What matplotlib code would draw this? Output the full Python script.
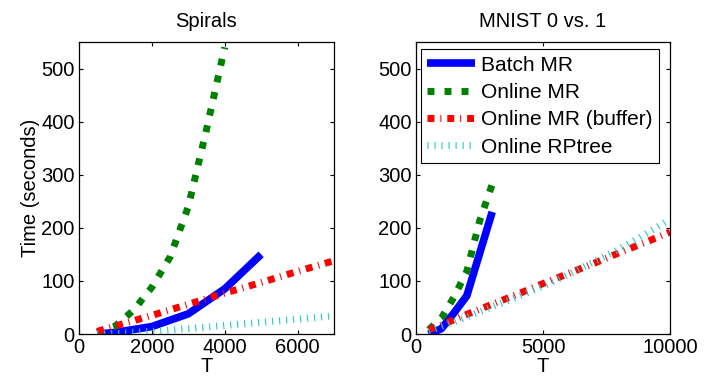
import numpy as np
import matplotlib
matplotlib.use("Agg")
import matplotlib.pyplot as plt

plt.rcParams['font.family'] = ['Liberation Sans', 'DejaVu Sans']
FS = 14.5
plt.rcParams['font.size'] = FS

# ---- Spirals ----
spi_batch_T = [500, 1000, 2000, 3000, 4000, 5000]
spi_batch_t = [0, 3, 14, 38, 85, 150]
spi_online_T = [500, 1000, 1500, 2000, 2500, 3000, 3500, 4000]
spi_online_t = [3, 15, 45, 88, 145, 240, 385, 540]
spi_buf_T = [500, 1000, 2000, 3000, 4000, 5000, 6000, 7000]
spi_buf_t = [5, 15, 35, 56, 77, 97, 118, 138]
spi_rp_T = [500, 1000, 2000, 3000, 4000, 5000, 6000, 7000]
spi_rp_t = [0, 1, 5, 10, 16, 22, 28, 34]

# ---- MNIST 0 vs. 1 ----
mn_batch_T = [500, 1000, 1500, 2000, 3000]
mn_batch_t = [0, 10, 40, 72, 230]
mn_online_T = [500, 1000, 1500, 2000, 2500, 3000]
mn_online_t = [8, 30, 70, 118, 212, 282]
mn_buf_T = [500, 1000, 2000, 3000, 4000, 5000, 6000, 7000, 8000, 9000, 10000]
mn_buf_t = [8, 17, 37, 56, 75, 95, 114, 133, 153, 172, 192]
mn_rp_T = [500, 1000, 2000, 3000, 4000, 5000, 6000, 7000, 8000, 9000, 10000]
mn_rp_t = [5, 14, 32, 51, 70, 90, 112, 136, 160, 187, 216]

labels = ['Batch MR', 'Online MR', 'Online MR (buffer)', 'Online RPtree']

fig = plt.figure(figsize=(7.04, 3.83), dpi=100)
ax1 = fig.add_axes([79/704, 49/383, 255/704, 292/383])
ax2 = fig.add_axes([416/704, 49/383, 254/704, 292/383])


def draw(ax, b, o, f, r):
    ax.plot(b[0], b[1], color='#0000ff', lw=5.5, solid_capstyle='butt',
            label=labels[0])
    ax.plot(o[0], o[1], color='#008000', lw=5, dash_capstyle='butt',
            dashes=(1, 1.45), label=labels[1])
    ax.plot(f[0], f[1], color='#ff0000', lw=5, dash_capstyle='butt',
            dashes=(1, 0.85, 0.15, 0.85), label=labels[2])
    ax.plot(r[0], r[1], color='#22cccc', lw=5, dash_capstyle='butt',
            dashes=(0.16, 0.85), label=labels[3])
    ax.set_ylim(0, 550)
    ax.set_yticks([0, 100, 200, 300, 400, 500])
    ax.tick_params(direction='in', length=3, width=0.8, top=True, right=True,
                   labelsize=FS, pad=3)
    for s in ax.spines.values():
        s.set_linewidth(0.9)
    ax.set_xlabel('T', fontsize=FS, labelpad=0)


draw(ax1, (spi_batch_T, spi_batch_t), (spi_online_T, spi_online_t),
     (spi_buf_T, spi_buf_t), (spi_rp_T, spi_rp_t))
ax1.set_xlim(0, 7000)
ax1.set_xticks([0, 2000, 4000, 6000])
ax1.set_ylabel('Time (seconds)', fontsize=FS, labelpad=1)
ax1.set_title('Spirals', fontsize=FS, pad=11)

draw(ax2, (mn_batch_T, mn_batch_t), (mn_online_T, mn_online_t),
     (mn_buf_T, mn_buf_t), (mn_rp_T, mn_rp_t))
ax2.set_xlim(0, 10000)
ax2.set_xticks([0, 5000, 10000])
ax2.set_title('MNIST 0 vs. 1', fontsize=FS, pad=11)
leg = ax2.legend(loc='upper left', bbox_to_anchor=(0.02, 0.975), fontsize=15,
                 handlelength=2.3, handletextpad=0.3, borderpad=0.3,
                 labelspacing=0.4, fancybox=False, framealpha=1,
                 edgecolor='black', borderaxespad=0)
leg.get_frame().set_linewidth(0.8)

fig.savefig('out.png', dpi=100)
